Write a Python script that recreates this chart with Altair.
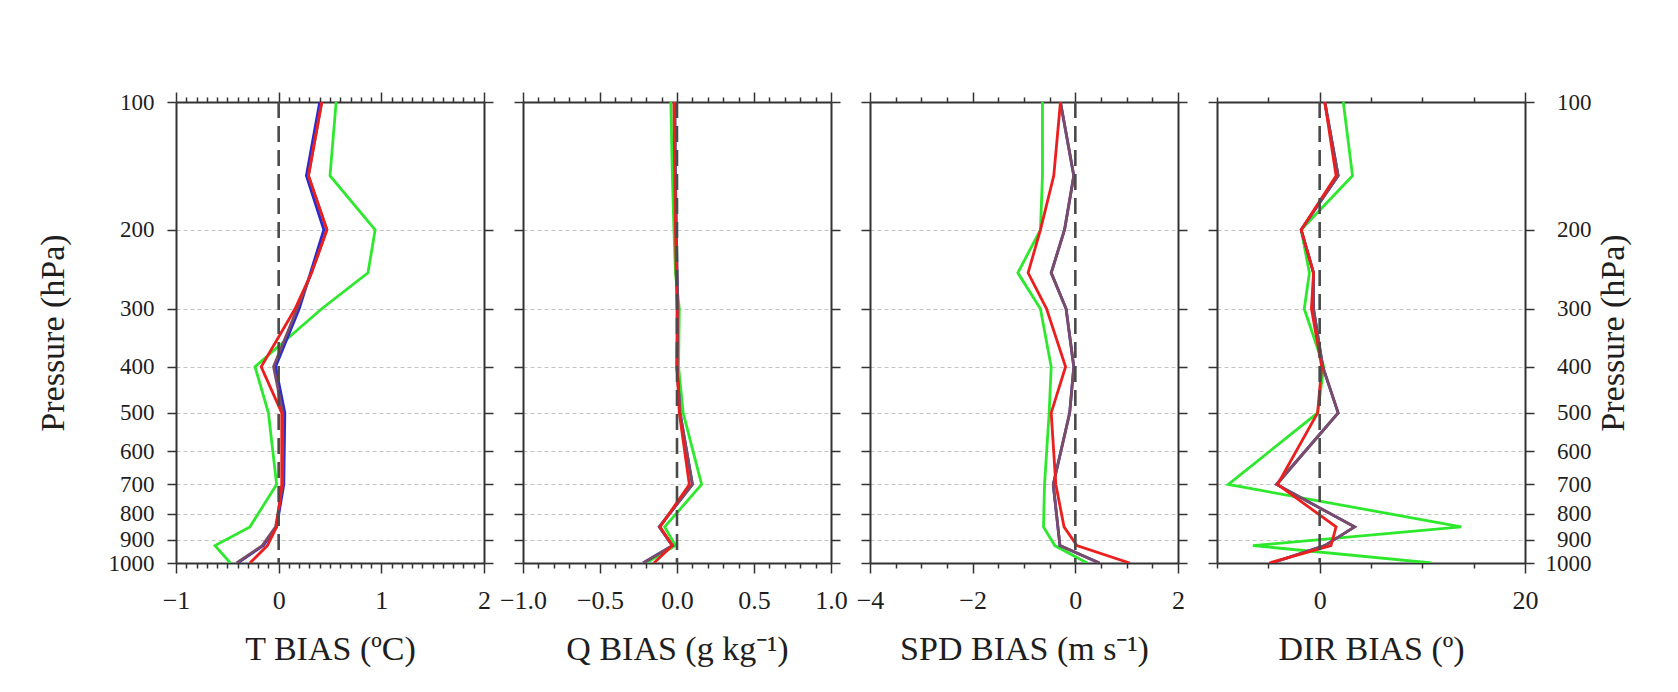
import altair as alt
import pandas as pd

# Pressure levels (hPa)
levels = [100, 150, 200, 250, 300, 400, 500, 700, 850, 925, 1000]
ytick_vals = [100, 200, 300, 400, 500, 600, 700, 800, 900, 1000]

series_names = ["green", "blue", "purple", "red"]
series_colors = ["#2ee82e", "#2a2ad0", "#7b4c66", "#ec1f1f"]

# T BIAS (degC)
t_green = [0.56, 0.50, 0.94, 0.87, 0.42, -0.23, -0.10, -0.02, -0.28, -0.62, -0.47]
t_blue = [0.40, 0.27, 0.44, 0.31, 0.20, -0.03, 0.06, 0.05, -0.02, -0.15, -0.40]
t_purple = [0.42, 0.29, 0.47, 0.32, 0.18, -0.05, 0.04, 0.04, -0.03, -0.16, -0.41]
t_red = [0.42, 0.29, 0.47, 0.32, 0.16, -0.17, 0.03, 0.03, -0.02, -0.11, -0.28]

# Q BIAS (g/kg)
q_green = [-0.04, -0.03, -0.02, -0.01, 0.015, 0.01, 0.04, 0.16, -0.08, -0.01, -0.20]
q_blue = [-0.015, -0.01, -0.005, 0.0, 0.005, 0.0, 0.02, 0.10, -0.115, -0.03, -0.22]
q_purple = [-0.015, -0.01, -0.005, 0.0, 0.005, 0.0, 0.02, 0.10, -0.115, -0.03, -0.22]
q_red = [-0.02, -0.015, -0.01, -0.005, 0.0, 0.0, 0.015, 0.08, -0.11, -0.03, -0.15]

# SPD BIAS (m/s)
s_green = [-0.64, -0.64, -0.68, -1.12, -0.68, -0.47, -0.51, -0.60, -0.62, -0.40, 0.23]
s_blue = [-0.29, -0.03, -0.21, -0.47, -0.18, -0.03, -0.11, -0.43, -0.34, -0.30, 0.47]
s_purple = [-0.29, -0.03, -0.21, -0.47, -0.18, -0.03, -0.11, -0.43, -0.34, -0.30, 0.47]
s_red = [-0.29, -0.42, -0.68, -0.92, -0.56, -0.19, -0.47, -0.38, -0.22, 0.03, 1.06]

# DIR BIAS (deg)
d_green = [2.3, 3.2, -1.8, -1.0, -1.5, 0.4, -0.2, -8.9, 13.8, -6.5, 10.9]
d_blue = [0.5, 1.8, -1.8, -0.6, -0.6, 0.3, 1.8, -4.2, 3.4, 0.5, -4.7]
d_purple = [0.5, 1.8, -1.8, -0.6, -0.6, 0.3, 1.8, -4.2, 3.4, 0.5, -4.7]
d_red = [0.5, 1.6, -1.8, -0.6, -0.8, 0.2, -0.2, -4.1, 1.6, 1.1, -4.9]

FONT = "Liberation Serif"
INK = "#1e1e1e"


def make_df(green, blue, purple, red):
    rows = []
    for name, vals in zip(series_names, [green, blue, purple, red]):
        for p, v in zip(levels, vals):
            rows.append({"series": name, "p": p, "bias": v})
    return pd.DataFrame(rows)


def tick_list(lo, hi, step):
    n = int(round((hi - lo) / step))
    return [round(lo + i * step, 6) for i in range(n + 1)]


def panel(df, xdom, step, major, fmt, xtitle, first, last):
    ticks = tick_list(xdom[0], xdom[1], step)
    test = f"abs(datum.value/{major} - round(datum.value/{major})) < 1e-6"
    xs = alt.Scale(domain=xdom, nice=False, zero=False)
    ys = alt.Scale(type="pow", exponent=0.1, domain=[100, 1000],
                   reverse=True, nice=False, zero=False)
    common = dict(domainColor="#333333", domainWidth=2, tickColor="#333333",
                  tickWidth=1.5, grid=False)
    tsize = {"condition": {"test": test, "value": 10}, "value": 5}
    bottom = alt.Axis(orient="bottom", values=ticks, format=fmt,
                      labelExpr=f"{test} ? datum.label : ''",
                      tickSize=tsize, labelOverlap=False, labelFlush=False,
                      labelBound=False, labelFontSize=26, labelPadding=14,
                      labelFont=FONT, labelColor=INK, title=xtitle,
                      titleFont=FONT, titleFontSize=34, titleFontWeight="normal",
                      titleColor=INK, titlePadding=19, **common)
    top = alt.Axis(orient="top", values=ticks, labels=False, title=None,
                   tickSize=tsize, **common)
    left_kw = dict(orient="left", values=ytick_vals, format="d", tickSize=9,
                   domainColor="#333333", domainWidth=2, tickColor="#333333",
                   tickWidth=1.5, grid=True, gridColor="#c4c4c4",
                   gridDash=[4, 3], gridWidth=1, labelOverlap=False,
                   labelFlush=False)
    if first:
        left = alt.Axis(labels=True, labelFont=FONT, labelFontSize=23,
                        labelColor=INK, labelPadding=13,
                        title="Pressure (hPa)", titleFont=FONT,
                        titleFontSize=34, titleFontWeight="normal",
                        titleColor=INK, titlePadding=38, **left_kw)
    else:
        left = alt.Axis(labels=False, title=None, **left_kw)
    right_kw = dict(orient="right", values=ytick_vals, format="d", tickSize=9,
                    domainColor="#333333", domainWidth=2, tickColor="#333333",
                    tickWidth=1.5, grid=False, labelOverlap=False,
                    labelFlush=False)
    if last:
        right = alt.Axis(labels=True, labelFont=FONT, labelFontSize=23,
                         labelColor=INK, labelAlign="right", labelPadding=57,
                         title="Pressure (hPa)", titleFont=FONT,
                         titleFontSize=34, titleFontWeight="normal",
                         titleColor=INK, titleAngle=270, titleBaseline="top",
                         titlePadding=5, **right_kw)
    else:
        right = alt.Axis(labels=False, title=None, **right_kw)

    base = alt.Chart(df)
    ax1 = base.mark_line(opacity=0).encode(
        x=alt.X("bias:Q", scale=xs, axis=bottom),
        y=alt.Y("p:Q", scale=ys, axis=left),
        detail="series:N",
        order="p:Q",
    )
    ax2 = base.mark_line(opacity=0).encode(
        x=alt.X("bias:Q", scale=xs, axis=top),
        y=alt.Y("p:Q", scale=ys, axis=right),
        detail="series:N",
        order="p:Q",
    )
    lines = []
    for name, col in zip(series_names, series_colors):
        lines.append(
            base.transform_filter(alt.datum.series == name)
            .mark_line(color=col, strokeWidth=2.8, clip=True)
            .encode(
                x=alt.X("bias:Q", scale=xs, axis=None),
                y=alt.Y("p:Q", scale=ys, axis=None),
                order="p:Q",
            )
        )
    zero = alt.Chart(pd.DataFrame({"z": [0]})).mark_rule(
        color="#4a4a4a", strokeDash=[16, 8], strokeWidth=2.6
    ).encode(x=alt.X("z:Q", scale=xs, axis=None))

    return (
        alt.layer(ax1, ax2, *lines, zero)
        .resolve_axis(x="independent", y="independent")
        .properties(width=308, height=461)
    )


p1 = panel(make_df(t_green, t_blue, t_purple, t_red), [-1, 2], 0.1, 1, ".0f",
           "T BIAS (ºC)", True, False)
p2 = panel(make_df(q_green, q_blue, q_purple, q_red), [-1, 1], 0.1, 0.5, ".1f",
           "Q BIAS (g kg⁻¹)", False, False)
p3 = panel(make_df(s_green, s_blue, s_purple, s_red), [-4, 2], 0.5, 2, ".0f",
           "SPD BIAS (m s⁻¹)", False, False)
p4 = panel(make_df(d_green, d_blue, d_purple, d_red), [-10, 20], 5, 20, ".0f",
           "DIR BIAS (º)", False, True)

chart = (
    alt.hconcat(p1, p2, p3, p4, spacing=39, bounds="flush")
    .properties(padding={"left": 28, "top": 83, "right": 10, "bottom": 10},
                background="white")
    .configure_view(stroke=None)
)

chart.save("out.html", embed_options={"renderer": "svg", "actions": False})
